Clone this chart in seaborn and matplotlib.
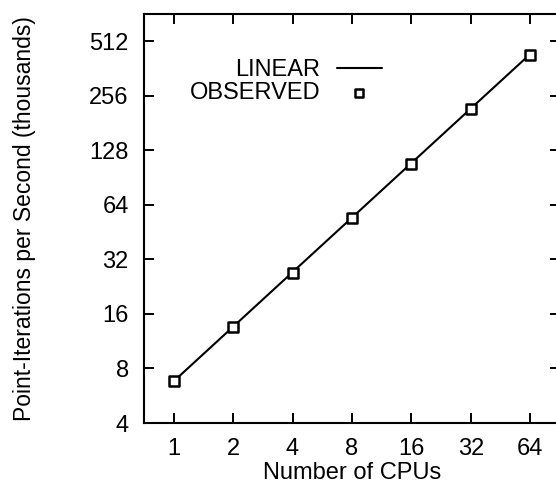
import matplotlib
matplotlib.use("Agg")
import matplotlib.pyplot as plt
import pandas as pd
import seaborn as sns

cpus = [1, 2, 4, 8, 16, 32, 64]
observed = [6.8, 13.5, 27, 54, 108, 217, 432]
linear = [6.8, 13.6, 27.2, 54.4, 108.8, 217.6, 435.2]
yticks = [4, 8, 16, 32, 64, 128, 256, 512]

data = pd.DataFrame({'CPUs': cpus, 'Observed': observed, 'Linear': linear})

sns.set_theme(style="ticks")
plt.rcParams['font.family'] = ['Liberation Sans', 'DejaVu Sans']
plt.rcParams['text.color'] = 'black'
plt.rcParams['axes.labelcolor'] = 'black'

fig = plt.figure(figsize=(5.56, 4.86), dpi=100)
ax = fig.add_axes([0.259, 0.1296, 0.748, 0.8416])

sns.lineplot(data=data, x='CPUs', y='Linear', ax=ax, color='black', lw=1.5, label='LINEAR')
sns.scatterplot(data=data, x='CPUs', y='Observed', ax=ax, marker='s', s=55,
                facecolor='white', edgecolor='black', linewidth=1.8, label='OBSERVED', zorder=3)

ax.set_xscale('log', base=2)
ax.set_yscale('log', base=2)
ax.set_xlim(2 ** -0.5, 2 ** 6.5)
ax.set_ylim(4, 2 ** 9.5)
ax.set_xticks(cpus)
ax.set_xticklabels([str(c) for c in cpus])
ax.set_yticks(yticks)
ax.set_yticklabels([str(t) for t in yticks])
ax.minorticks_off()

ax.tick_params(direction='in', length=7, width=1.4, labelsize=17, top=True, right=True,
               colors='black', labelcolor='black')
ax.tick_params(axis='x', pad=11)
ax.tick_params(axis='y', pad=11)
for s in ax.spines.values():
    s.set_linewidth(1.5)
    s.set_color('black')

ax.set_xlabel('Number of CPUs', fontsize=17, labelpad=1, color='black')
ax.set_ylabel('Point-Iterations per Second (thousands)', fontsize=16.5, labelpad=38, color='black')

leg = ax.legend(loc='upper right', bbox_to_anchor=(0.572, 0.89), frameon=False,
                markerfirst=False, fontsize=17, handlelength=1.9, handletextpad=0.7,
                labelspacing=0.05, borderpad=0, borderaxespad=0, markerscale=0.7)
for t in leg.get_texts():
    t.set_color('black')

fig.savefig('out.png', dpi=100)
